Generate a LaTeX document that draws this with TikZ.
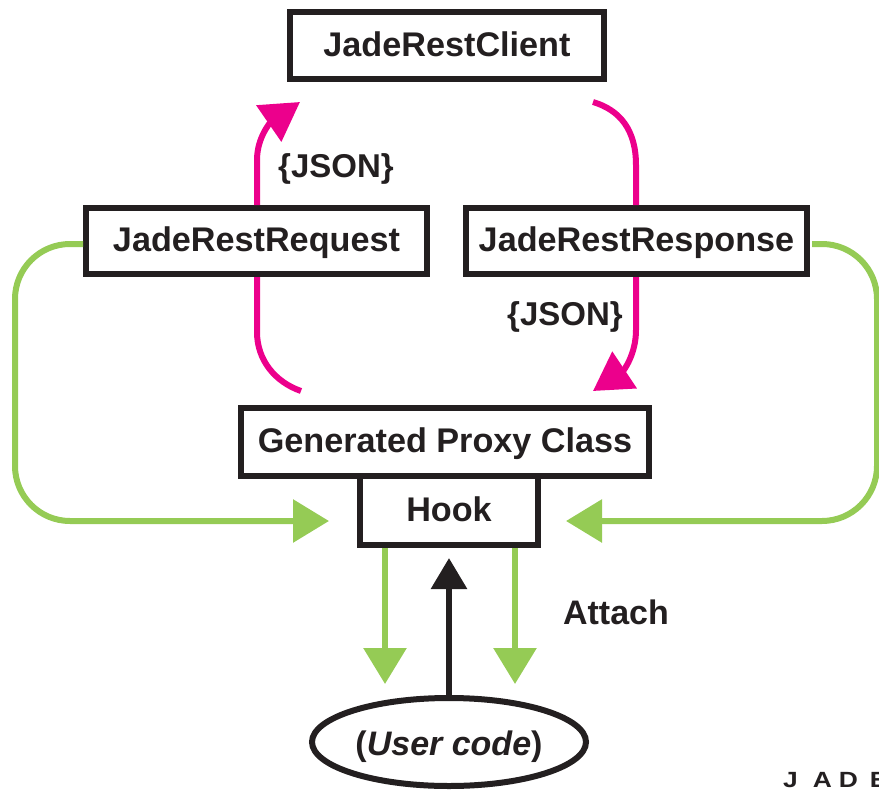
\documentclass[tikz,border=0pt]{standalone}
\usepackage{fontspec}
\setmainfont{Liberation Sans}
\newfontfamily\brandfont[FakeStretch=1.2]{Liberation Sans}
\usepackage{xcolor}
\usetikzlibrary{arrows.meta,shapes.geometric,positioning}
\definecolor{jadepink}{HTML}{EC008C}
\definecolor{jadegreen}{HTML}{95CB55}
\definecolor{jadeink}{HTML}{231F20}
\tikzset{
    classbox/.style={draw=jadeink, line width=6pt, inner sep=0pt, text=jadeink,
        font=\fontsize{34.2}{34}\selectfont\bfseries, text height=25pt, text depth=4pt},
    caption/.style={text=jadeink, inner sep=0pt, font=\fontsize{34}{34}\selectfont\bfseries},
    pinkline/.style={draw=jadepink, line width=6pt},
    greenline/.style={draw=jadegreen, line width=6pt},
    greenhead/.style={-{Triangle[length=36pt,width=42pt]}, jadegreen},
    pinkhead/.style={-{Triangle[length=38pt,width=43pt]}, jadepink}
}

\begin{document}
\begin{tikzpicture}[x=1pt, y=-1pt]
    \useasboundingbox (0,0) rectangle (879,790);

    % Define the boxes
    \node [classbox, minimum width=314pt, minimum height=67pt] (client) at (447,45.5) {JadeRestClient};
    \node [classbox, minimum width=341pt, minimum height=66pt] (request) at (256.5,241) {JadeRestRequest};
    \node [classbox, minimum width=341pt, minimum height=66pt, right=33pt of request] (response) {JadeRestResponse};
    \node [classbox, minimum width=408pt, minimum height=68pt] (proxy) at (445,442) {Generated Proxy Class};
    \node [classbox, minimum width=178pt, minimum height=69pt, below=-6pt of proxy, xshift=4pt] (hook) {Hook};
    \node [ellipse, draw=jadeink, line width=6pt, minimum width=274pt, minimum height=88pt, inner sep=0pt,
        text=jadeink, text height=26pt, text depth=0pt, font=\fontsize{34}{34}\selectfont\bfseries] (user) at (449,742) {(\textit{User code})};

    % Free ends of the connectors
    \coordinate (reqtip) at (300,102);
    \coordinate (resptail) at (593,102);
    \coordinate (reqtail) at (301,391);
    \coordinate (proxytip) at (593,391);
    \coordinate (hookleft) at (329,521);
    \coordinate (hookright) at (566,521);
    \coordinate (userleft) at (385,684);
    \coordinate (userright) at (515,684);

    % Draw the pink connectors
    \draw [pinkline] (reqtail) .. controls (275,382) and (257,360) .. (257,332) -- (257,277);
    \draw [pinkline, pinkhead] (257,205) -- (257,160) .. controls (257,137) and (271,122) .. (reqtip);
    \draw [pinkline] (resptail) .. controls (620,110) and (636,130) .. (636,165) -- (636,205);
    \draw [pinkline, pinkhead] (636,277) -- (636,330) .. controls (636,355) and (623,371) .. (proxytip);

    % Draw the green connectors
    \draw [greenline, greenhead, rounded corners=55pt] ([yshift=-3pt]request.west) -- (15,244) -- (15,521) -- (hookleft);
    \draw [greenline, greenhead, rounded corners=55pt, shorten <=2pt] ([yshift=-3pt]response.east) -- (877,244) -- (877,521) -- (hookright);
    \foreach \i in {left,right} {
            \draw [greenline, greenhead] (hook.south -| user\i) -- (user\i);
        }

    % Draw the black arrow
    \draw [draw=jadeink, line width=6pt, -{Triangle[length=31pt,width=35pt]}, jadeink] (user.north) -- (449,558);

    % Add labels
    \node [caption, font=\fontsize{33}{33}\selectfont\bfseries] (jsonup) at (336,169) {\{JSON\}};
    \node [caption, font=\fontsize{33}{33}\selectfont\bfseries] (jsondown) at (565,317) {\{JSON\}};
    \node [caption] (attach) at (616,612) {Attach};
    \node [anchor=base west, inner sep=0pt, text=jadeink, font=\brandfont\fontsize{22}{22}\selectfont\bfseries] (brand) at (783,787) {J\hspace{15pt}A\hspace{7pt}D\hspace{12pt}E};
\end{tikzpicture}
\end{document}
